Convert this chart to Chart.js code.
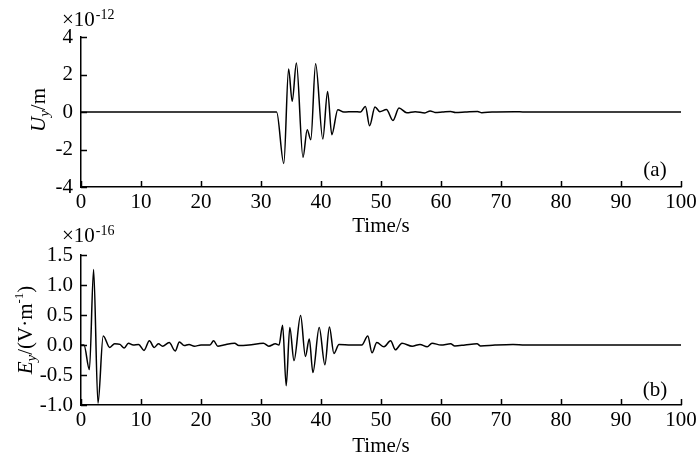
<!DOCTYPE html>
<html>
<head>
<meta charset="utf-8">
<script src="https://cdn.jsdelivr.net/npm/chart.js@4/dist/chart.umd.min.js"></script>
<style>
  html, body { margin: 0; padding: 0; background: #fff; }
  #wrap { position: relative; width: 700px; height: 461px; overflow: hidden; }
  .box { position: absolute; left: 0; width: 700px; }
</style>
</head>
<body>
<div id="wrap">
  <div class="box" style="top:0;height:240px"><canvas id="c1" width="700" height="240"></canvas></div>
  <div class="box" style="top:210px;height:251px"><canvas id="c2" width="700" height="251"></canvas></div>
</div>
<script>
// ---- Data ----
const xTicks = [0, 10, 20, 30, 40, 50, 60, 70, 80, 90, 100];
const uyTicks = [-4, -2, 0, 2, 4];
const eyTicks = [-1.0, -0.5, 0.0, 0.5, 1.0, 1.5];

// Panel (a): Uy (×1e-12 m) vs Time/s
const uyTime  = [0, 32.6, 33.8, 34.6, 35.2, 35.9, 37.0, 37.7, 38.3, 39.1, 40.3, 41.1, 41.8, 42.8, 43.8, 45.5, 46.6, 47.4, 48.1, 49.0, 49.8, 50.9, 52.0, 53.0, 54.3, 55.7, 57.3, 58.2, 59.0, 60.2, 61.6, 62.4, 64.0, 66.1, 66.8, 68.5, 72.2, 74.0, 100];
const uyValue = [0, 0, -2.75, 2.29, 0.57, 2.61, -2.42, -0.94, -1.48, 2.58, -1.44, 1.10, -1.21, 0.12, 0.0, 0.02, 0.0, 0.30, -0.73, 0.27, 0.02, 0.13, -0.45, 0.21, -0.04, 0.02, -0.05, 0.06, -0.02, 0.0, 0.03, -0.02, 0.0, 0.03, -0.04, 0.0, 0.02, 0.0, 0];

// Panel (b): Ey (×1e-16 V/m) vs Time/s
const eyTime  = [0, 0.5, 1.4, 2.1, 2.83, 3.7, 4.8, 5.6, 6.5, 7.2, 7.9, 8.7, 9.6, 10.5, 11.4, 12.2, 12.9, 13.6, 14.7, 15.7, 16.4, 17.2, 18.0, 18.9, 20.0, 21.5, 22.1, 22.8, 23.8, 25.6, 26.3, 28.0, 30.4, 31.3, 32.4, 33.0, 33.6, 34.2, 34.8, 35.5, 36.6, 37.4, 38.05, 38.65, 39.7, 40.65, 41.4, 42.15, 43.0, 45.0, 46.8, 47.8, 48.5, 49.3, 50.5, 51.6, 52.4, 53.5, 55.2, 56.5, 57.7, 58.5, 60.0, 61.6, 62.3, 64.0, 66.0, 66.6, 69.0, 72.0, 74.0, 100];
const eyValue = [0, 0, -0.41, 1.26, -0.97, 0.15, -0.04, 0.02, 0.01, -0.05, 0.03, 0.0, 0.01, -0.09, 0.07, -0.04, 0.02, -0.02, 0.04, -0.10, 0.05, -0.01, 0.01, -0.02, 0.0, 0.0, 0.07, -0.02, 0.0, 0.03, -0.01, 0.0, 0.03, -0.02, 0.02, 0.0, 0.33, -0.68, 0.29, -0.26, 0.49, -0.19, 0.10, -0.46, 0.29, -0.33, 0.30, -0.14, 0.01, 0.0, 0.0, 0.15, -0.13, 0.04, -0.03, 0.07, -0.08, 0.03, -0.02, 0.01, -0.03, 0.03, 0.0, 0.02, -0.015, 0.0, 0.02, -0.015, 0.0, 0.01, 0.0, 0];

const FONT = '"Liberation Serif", "Times New Roman", serif';
const FS = 21;

function pts(t, v) { return t.map((x, i) => ({ x: x, y: v[i] })); }

// Inward tick marks + custom texts
function makePlugin(cfg) {
  return {
    id: 'extras',
    afterDraw(chart) {
      const ctx = chart.ctx;
      const xs = chart.scales.x, ys = chart.scales.y;
      const area = chart.chartArea;
      ctx.save();
      ctx.strokeStyle = '#000';
      ctx.lineWidth = 1.5;
      ctx.beginPath();
      xs.ticks.forEach(tk => {
        const px = Math.round(xs.getPixelForValue(tk.value)) + 0.5;
        ctx.moveTo(px, area.bottom);
        ctx.lineTo(px, area.bottom - 6);
      });
      ys.ticks.forEach(tk => {
        const py = Math.round(ys.getPixelForValue(tk.value)) + 0.5;
        ctx.moveTo(area.left, py);
        ctx.lineTo(area.left + 6, py);
      });
      ctx.stroke();

      ctx.fillStyle = '#000';
      // exponent label
      ctx.textBaseline = 'alphabetic';
      ctx.textAlign = 'left';
      ctx.font = FS + 'px ' + FONT;
      ctx.fillText('\u00d710', cfg.expX, cfg.expY);
      const w = ctx.measureText('\u00d710').width;
      ctx.font = '14px ' + FONT;
      ctx.fillText(cfg.expPow, cfg.expX + w + 1, cfg.expY - 7);

      // Time/s
      ctx.font = FS + 'px ' + FONT;
      ctx.textAlign = 'center';
      ctx.textBaseline = 'middle';
      ctx.fillText('Time/s', (area.left + area.right) / 2, cfg.timeY);

      // panel tag
      ctx.fillText(cfg.tag, cfg.tagX, cfg.tagY);

      // y label (rotated)
      ctx.translate(cfg.ylabX, cfg.ylabY);
      ctx.rotate(-Math.PI / 2);
      const parts = cfg.ylabel;
      let total = 0;
      parts.forEach(p => { ctx.font = p.f; total += ctx.measureText(p.t).width; });
      let cx = -total / 2;
      ctx.textAlign = 'left';
      ctx.textBaseline = 'alphabetic';
      parts.forEach(p => {
        ctx.font = p.f;
        ctx.fillText(p.t, cx, p.dy || 0);
        cx += ctx.measureText(p.t).width;
      });
      ctx.restore();
    }
  };
}

function makeChart(id, data, yMin, yMax, yStep, fmt, padTop, xHeight, plug) {
  return new Chart(document.getElementById(id), {
    type: 'line',
    data: {
      datasets: [{
        data: data,
        borderColor: '#000',
        borderWidth: 1.5,
        pointRadius: 0,
        fill: false,
        cubicInterpolationMode: 'monotone'
      }]
    },
    options: {
      responsive: false,
      animation: false,
      devicePixelRatio: 1,
      layout: { padding: { top: padTop, right: 19, left: 0, bottom: 0 } },
      plugins: { legend: { display: false }, tooltip: { enabled: false } },
      scales: {
        x: {
          type: 'linear', min: 0, max: 100,
          afterBuildTicks(s) { s.ticks = xTicks.map(v => ({ value: v })); },
          afterFit(s) { s.height = xHeight; },
          grid: { display: true, drawOnChartArea: false, drawTicks: false },
          border: { display: true, color: '#000', width: 1.5 },
          ticks: { color: '#000', font: { family: FONT, size: FS }, padding: 3, maxRotation: 0 }
        },
        y: {
          type: 'linear', min: yMin, max: yMax,
          afterBuildTicks(s) { s.ticks = yStep.map(v => ({ value: v })); },
          afterFit(s) { s.width = 81; },
          grid: { display: true, drawOnChartArea: false, drawTicks: false },
          border: { display: true, color: '#000', width: 1.5 },
          ticks: { color: '#000', font: { family: FONT, size: FS }, padding: 8, callback: fmt }
        }
      }
    },
    plugins: [plug]
  });
}

makeChart('c1', pts(uyTime, uyValue), -4, 4, uyTicks, v => String(v), 37, 53,
  makePlugin({
    expX: 62, expY: 26, expPow: '-12', timeY: 226, tag: '(a)', tagX: 655, tagY: 170,
    ylabX: 45, ylabY: 110,
    ylabel: [
      { t: 'U', f: 'italic ' + FS + 'px ' + FONT },
      { t: 'y', f: 'italic 15px ' + FONT, dy: 4 },
      { t: '/m', f: FS + 'px ' + FONT }
    ]
  }));

makeChart('c2', pts(eyTime, eyValue), -1.0, 1.5, eyTicks, v => Number(v).toFixed(1), 45, 56,
  makePlugin({
    expX: 62, expY: 32, expPow: '-16', timeY: 236, tag: '(b)', tagX: 655, tagY: 180,
    ylabX: 32, ylabY: 120,
    ylabel: [
      { t: 'E', f: 'italic ' + FS + 'px ' + FONT },
      { t: 'y', f: 'italic 15px ' + FONT, dy: 4 },
      { t: '/(V\u00b7m', f: FS + 'px ' + FONT },
      { t: '-1', f: '13px ' + FONT, dy: -9 },
      { t: ')', f: FS + 'px ' + FONT }
    ]
  }));
</script>
</body>
</html>
